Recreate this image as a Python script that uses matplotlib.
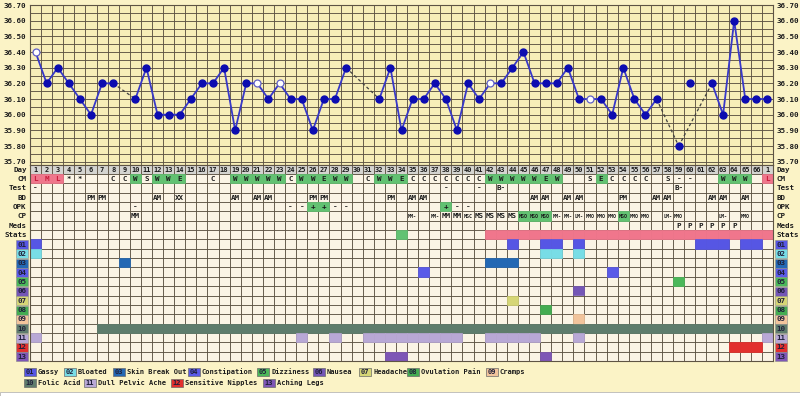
import numpy as np
import matplotlib
matplotlib.use("Agg")
import matplotlib.pyplot as plt
from matplotlib.patches import Rectangle

# === layout (pixels of the 800x396 picture) ===
W, H = 800, 396
LEFT, RIGHT = 30, 773
TEMP_TOP, TEMP_BOT = 5, 164.5
TABLE_BOT = 361

# === data ===
day_labels = [str(d) for d in range(1, 67)] + ["1"]
temps = [36.40, 36.20, 36.30, 36.20, 36.10, 36.00, 36.20, 36.20, None, 36.10,
         36.30, 36.00, 36.00, 36.00, 36.10, 36.20, 36.20, 36.30, 35.90, 36.20,
         36.20, 36.10, 36.20, 36.10, 36.10, 35.90, 36.10, 36.10, 36.30, None,
         None, 36.10, 36.30, 35.90, 36.10, 36.10, 36.20, 36.10, 35.90, 36.20,
         36.10, 36.20, 36.20, 36.30, 36.40, 36.20, 36.20, 36.20, 36.30, 36.10,
         36.10, 36.10, 36.00, 36.30, 36.10, 36.00, 36.10, None, 35.80, 36.20,
         None, 36.20, 36.00, 36.60, 36.10, 36.10, 36.10]
open_days = [1, 21, 23, 42, 51]
discarded_days = [60]

cm = {1: 'L', 2: 'M', 3: 'L', 4: '*', 5: '*', 8: 'C', 9: 'C', 10: 'W', 11: 'S',
      12: 'W', 13: 'W', 14: 'E', 17: 'C', 19: 'W', 20: 'W', 21: 'W', 22: 'W',
      23: 'W', 24: 'C', 25: 'W', 26: 'W', 27: 'E', 28: 'W', 29: 'W', 31: 'C',
      32: 'W', 33: 'W', 34: 'E', 35: 'C', 36: 'C', 37: 'C', 38: 'C', 39: 'C',
      40: 'C', 41: 'C', 42: 'W', 43: 'W', 44: 'W', 45: 'W', 46: 'W', 47: 'E',
      48: 'W', 51: 'S', 52: 'E', 53: 'C', 54: 'C', 55: 'C', 56: 'C', 58: 'S',
      59: '-', 60: '-', 63: 'W', 64: 'W', 65: 'W', 67: 'L'}
flow_days = [1, 2, 3, 67]
test = {1: '-', 38: '-', 41: '-', 43: 'B-', 59: 'B-'}
bd = {6: 'PM', 7: 'PM', 12: 'AM', 14: 'XX', 19: 'AM', 21: 'AM', 22: 'AM',
      26: 'PM', 27: 'PM', 33: 'PM', 35: 'AM', 36: 'AM', 46: 'AM', 47: 'AM',
      49: 'AM', 50: 'AM', 54: 'PM', 57: 'AM', 58: 'AM', 62: 'AM', 63: 'AM',
      65: 'AM'}
opk = {10: '-', 24: '-', 25: '-', 26: '+', 27: '+', 28: '-', 29: '-',
       38: '+', 39: '-', 40: '-'}
cp = {10: 'MM', 35: 'MM-', 37: 'MM-', 38: 'MM', 39: 'MM', 40: 'MSC', 41: 'MS',
      42: 'MS', 43: 'MS', 44: 'MS', 45: 'MSO', 46: 'MSO', 47: 'MSO', 48: 'MM-',
      49: 'MM-', 50: 'LM-', 51: 'MMO', 52: 'MMO', 53: 'MMO', 54: 'MSO',
      55: 'MMO', 56: 'MMO', 58: 'LM-', 59: 'MMO', 63: 'LM-', 65: 'MMO'}
meds = {59: 'P', 60: 'P', 61: 'P', 62: 'P', 63: 'P', 64: 'P'}
stats_green = [34]
stats_pink = list(range(42, 68))

symptom_codes = ['01', '02', '03', '04', '05', '06', '07', '08', '09', '10',
                 '11', '12', '13']
symptom_names = ['Gassy', 'Bloated', 'Skin Break Out', 'Constipation',
                 'Dizziness', 'Nausea', 'Headache', 'Ovulation Pain', 'Cramps',
                 'Folic Acid', 'Dull Pelvic Ache', 'Sensitive Nipples',
                 'Aching Legs']
symptom_colors = ['#5656E4', '#78DDE6', '#2468B4', '#5A5AE8', '#4CB85A',
                  '#7456B6', '#D6D676', '#44AC52', '#F2C49C', '#5E7C6C',
                  '#B8A8D6', '#E2302E', '#7E56B6']
symptom_days = [
    [1, 44, 47, 48, 50, 61, 62, 63, 65, 66],
    [1, 47, 48, 50],
    [9, 42, 43, 44],
    [36, 53],
    [59],
    [50],
    [44],
    [47],
    [50],
    list(range(7, 68)),
    [1, 25, 28, 31, 32, 33, 34, 35, 36, 37, 38, 39, 42, 43, 44, 45, 46, 50, 67],
    [64, 65, 66],
    [33, 34, 47],
]

row_names = ['Day', 'CM', 'Test', 'BD', 'OPK', 'CP', 'Meds', 'Stats'] + symptom_codes

# === style ===
MONO = 'DejaVu Sans Mono'
FS = 5.4
LEG_FS = 5.0
INK = '#1c1c1c'
GRID = '#5e5444'
GREEN = '#62C272'
PINK = '#F0768C'
FIG_BG = '#FBF3C6'
TEMP_BG = '#F7EEB8'
CELL_BG = '#FBF4E5'


def px_rect(x0, y0, x1, y1):
    return [x0 / W, 1 - y1 / H, (x1 - x0) / W, (y1 - y0) / H]


fig = plt.figure(figsize=(8, 3.96), dpi=100, facecolor=FIG_BG)
n_days = len(day_labels)
days = np.arange(1, n_days + 1)

# === temperature chart ===
ax = fig.add_axes(px_rect(LEFT, TEMP_TOP, RIGHT, TEMP_BOT))
ax.set_facecolor(TEMP_BG)
ax.set_xlim(0.5, n_days + 0.5)
ax.set_ylim(35.682, 36.70)
yt = np.round(np.arange(35.7, 36.701, 0.1), 2)
ax.set_yticks(yt)
ax.set_yticklabels([f"{t:.2f}" for t in yt])
ax.set_yticks(np.arange(35.7, 36.701, 0.05), minor=True)
ax.set_xticks([])
ax.set_xticks(np.arange(0.5, n_days + 1, 1), minor=True)
ax.grid(which='both', color=GRID, lw=0.65)
ax.tick_params(which='both', length=0, labelleft=True, labelright=True,
               pad=2.5, labelsize=FS, labelcolor=INK)
for lab in ax.get_yticklabels(which='both') + [t.label2 for t in ax.yaxis.get_major_ticks()]:
    lab.set_family(MONO)
    lab.set_weight('bold')
for s in ax.spines.values():
    s.set_color(GRID)
    s.set_linewidth(0.8)

pts = [(d, t) for d, t in zip(days, temps) if t is not None and d not in discarded_days]
run = [pts[0]]
for prev, cur in zip(pts[:-1], pts[1:]):
    if cur[0] - prev[0] == 1:
        run.append(cur)
    else:
        ax.plot([p[0] for p in run], [p[1] for p in run], color='#3838C8', lw=1.3, zorder=3)
        ax.plot([prev[0], cur[0]], [prev[1], cur[1]], color='#404040', lw=0.9,
                ls=(0, (2.5, 2)), zorder=3)
        run = [cur]
ax.plot([p[0] for p in run], [p[1] for p in run], color='#3838C8', lw=1.3, zorder=3)

filled = [(d, t) for d, t in zip(days, temps) if t is not None and d not in open_days]
hollow = [(d, t) for d, t in zip(days, temps) if t is not None and d in open_days]
ax.plot([p[0] for p in filled], [p[1] for p in filled], 'o', ms=5,
        color='#0C0CB0', zorder=4)
ax.plot([p[0] for p in hollow], [p[1] for p in hollow], 'o', ms=5,
        mfc='white', mec='#6060C8', mew=0.9, zorder=4)

# === table below ===
tb = fig.add_axes(px_rect(LEFT, TEMP_BOT, RIGHT, TABLE_BOT))
tb.set_facecolor(CELL_BG)
n_rows = len(row_names)
tb.set_xlim(0.5, n_days + 0.5)
tb.set_ylim(n_rows, 0)
tb.set_xticks([])
tb.set_xticks(np.arange(0.5, n_days + 1, 1), minor=True)
tb.set_yticks(np.arange(n_rows) + 0.5)
tb.set_yticklabels(row_names)
tb.set_yticks(np.arange(0, n_rows + 1), minor=True)
tb.grid(which='minor', color=GRID, lw=0.65)
tb.tick_params(which='both', length=0, labelleft=True, labelright=True,
               pad=2.5, labelsize=FS, labelcolor=INK)
for i, tick in enumerate(tb.yaxis.get_major_ticks()):
    for lab in (tick.label1, tick.label2):
        lab.set_family(MONO)
        lab.set_weight('bold')
        if i >= 8:
            c = symptom_colors[i - 8]
            lab.set_color('#20203a')
            lab.set_bbox(dict(boxstyle='square,pad=0.2', fc=c, ec='#8a8a8a', lw=0.4))
for s in tb.spines.values():
    s.set_color(GRID)
    s.set_linewidth(0.8)


def cells(day_list, row, color, z=2):
    tb.bar(day_list, 1, bottom=row, width=1, color=color, edgecolor=color,
           linewidth=0.5, zorder=z)


def cell_text(d, row, txt, color=INK, size=FS):
    tb.text(d, row + 0.55, txt, ha='center', va='center', fontsize=size,
            family=MONO, weight='bold', color=color, zorder=5)


# Day row
cells(days, 0, '#D4D4D0', z=1)
for d, lab in zip(days, day_labels):
    cell_text(d, 0, lab, size=5.0)

# CM row
cells(flow_days, 1, PINK)
cells([d for d, v in cm.items() if v in ('W', 'E')], 1, GREEN)
for d, v in cm.items():
    cell_text(d, 1, v, color='#C81C3C' if d in flow_days else INK)

for d, v in test.items():
    cell_text(d, 2, v)
for d, v in bd.items():
    cell_text(d, 3, v)
cells([d for d, v in opk.items() if v == '+'], 4, GREEN)
for d, v in opk.items():
    cell_text(d, 4, v)
cells([d for d, v in cp.items() if v == 'MSO'], 5, GREEN)
for d, v in cp.items():
    cell_text(d, 5, v, size=FS if len(v) < 3 else 3.6)
for d, v in meds.items():
    cell_text(d, 6, v)

cells(stats_green, 7, GREEN)
cells(stats_pink, 7, PINK)

for i, (dl, c) in enumerate(zip(symptom_days, symptom_colors)):
    cells(dl, 8 + i, c)

# === legend ===
legend_rows = [0, 0, 0, 0, 0, 0, 0, 0, 0, 1, 1, 1, 1]
legend_x = [24, 64, 113, 188, 257, 313, 359, 407, 486, 24, 84, 171, 263]
legend_y = [372, 383]
for code, name, c, r, x in zip(symptom_codes, symptom_names, symptom_colors,
                               legend_rows, legend_x):
    y = 1 - legend_y[r] / H
    fig.text((x + 6) / W, y, code, ha='center', va='center', fontsize=LEG_FS,
             family=MONO, weight='bold', color='#20203a',
             bbox=dict(boxstyle='square,pad=0.2', fc=c, ec='#6a6a6a', lw=0.5))
    fig.text((x + 14) / W, y, name, ha='left', va='center', fontsize=LEG_FS,
             family=MONO, weight='bold', color=INK)

# window strip at the bottom
fig.patches.append(Rectangle((0, 0), 1, 4 / H, transform=fig.transFigure,
                             fc='white', ec='#b8b8b8', lw=0.6))

fig.savefig('out.png', dpi=100, facecolor=FIG_BG)
